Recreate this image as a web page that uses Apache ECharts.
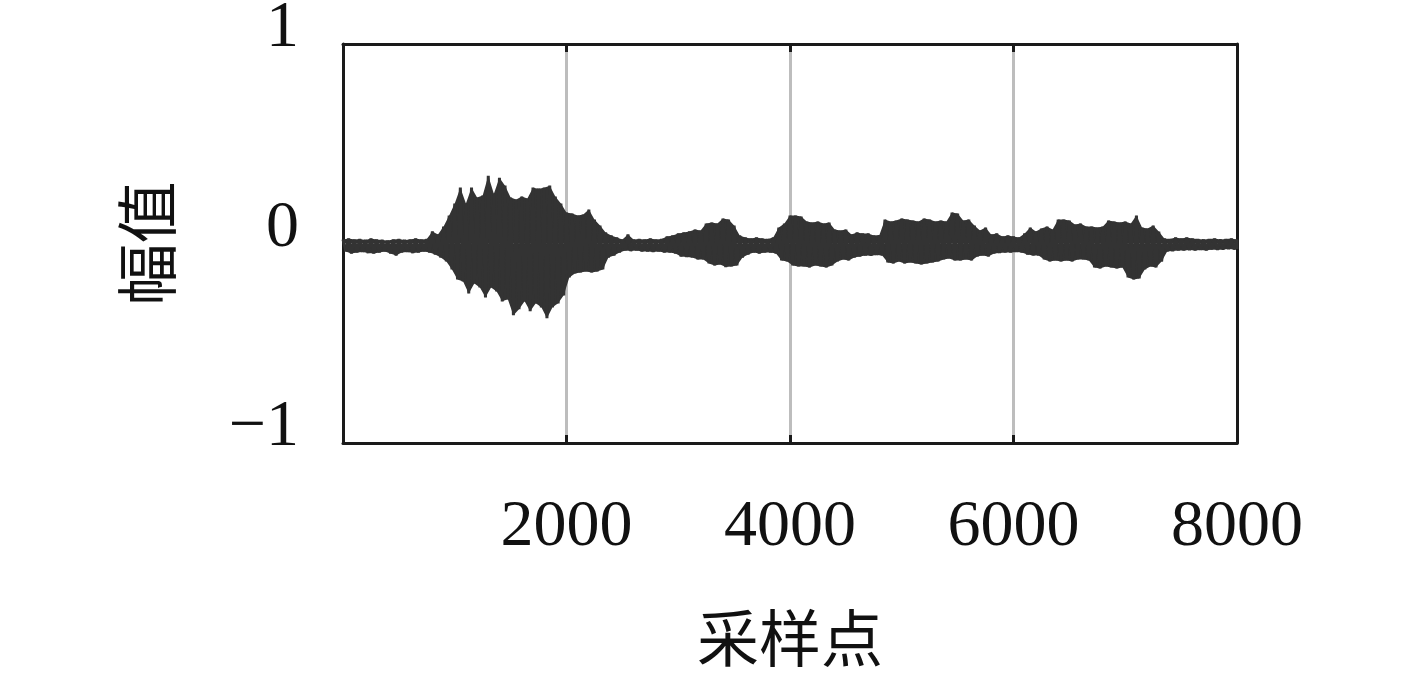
<!DOCTYPE html>
<html>
<head>
<meta charset="utf-8">
<script src="https://cdn.jsdelivr.net/npm/echarts@6/dist/echarts.min.js"></script>
<style>
  html, body { margin: 0; padding: 0; background: #fff; }
  #chart { width: 1417px; height: 673px; }
</style>
</head>
<body>
<div id="chart"></div>
<script>
// waveform envelope, one value every 50 samples (0..8000)
const sampleStep = 50
const upperEnv = [
  0.02, 0.025, 0.02, 0.022, 0.018, 0.025, 0.02, 0.018, 0.015, 0.02,
  0.022, 0.018, 0.02, 0.025, 0.02, 0.022, 0.06, 0.045, 0.085, 0.14,
  0.2, 0.28, 0.2, 0.28, 0.23, 0.24, 0.34, 0.25, 0.33, 0.29,
  0.23, 0.22, 0.235, 0.225, 0.28, 0.275, 0.28, 0.29, 0.235, 0.2,
  0.155, 0.15, 0.14, 0.145, 0.17, 0.12, 0.09, 0.055, 0.04, 0.03,
  0.02, 0.045, 0.02, 0.022, 0.02, 0.025, 0.02, 0.022, 0.035, 0.04,
  0.05, 0.055, 0.06, 0.07, 0.065, 0.1, 0.105, 0.1, 0.125, 0.12,
  0.09, 0.04, 0.03, 0.025, 0.03, 0.025, 0.022, 0.03, 0.08, 0.1,
  0.14, 0.14, 0.135, 0.11, 0.105, 0.11, 0.1, 0.105, 0.07, 0.065,
  0.07, 0.045, 0.055, 0.05, 0.05, 0.04, 0.042, 0.12, 0.11, 0.115,
  0.125, 0.12, 0.115, 0.11, 0.125, 0.12, 0.11, 0.115, 0.11, 0.155,
  0.15, 0.115, 0.12, 0.09, 0.065, 0.08, 0.045, 0.05, 0.035, 0.04,
  0.035, 0.03, 0.05, 0.08, 0.06, 0.075, 0.085, 0.07, 0.12, 0.12,
  0.115, 0.095, 0.1, 0.085, 0.085, 0.08, 0.085, 0.115, 0.11, 0.105,
  0.11, 0.1, 0.14, 0.08, 0.075, 0.09, 0.06, 0.025, 0.022, 0.03,
  0.025, 0.03, 0.025, 0.022, 0.02, 0.022, 0.025, 0.02, 0.022, 0.025,
  0.02
]
const lowerEnv = [
  -0.04, -0.05, -0.045, -0.042, -0.048, -0.05, -0.045, -0.04, -0.05, -0.06,
  -0.045, -0.042, -0.048, -0.045, -0.04, -0.045, -0.055, -0.07, -0.09, -0.13,
  -0.18, -0.19, -0.25, -0.2, -0.22, -0.27, -0.22, -0.24, -0.29, -0.28,
  -0.36, -0.33, -0.29, -0.34, -0.3, -0.32, -0.375, -0.32, -0.3, -0.26,
  -0.17, -0.15, -0.145, -0.14, -0.145, -0.14, -0.13, -0.07, -0.06, -0.045,
  -0.035, -0.038, -0.035, -0.04, -0.04, -0.042, -0.04, -0.045, -0.045, -0.05,
  -0.065, -0.068, -0.07, -0.08, -0.08, -0.1, -0.11, -0.105, -0.118, -0.115,
  -0.11, -0.07, -0.055, -0.045, -0.05, -0.045, -0.045, -0.05, -0.085, -0.09,
  -0.11, -0.115, -0.115, -0.12, -0.11, -0.115, -0.12, -0.11, -0.09, -0.08,
  -0.085, -0.07, -0.065, -0.06, -0.062, -0.058, -0.06, -0.095, -0.1, -0.09,
  -0.1, -0.095, -0.1, -0.105, -0.1, -0.095, -0.09, -0.08, -0.075, -0.085,
  -0.085, -0.08, -0.085, -0.065, -0.06, -0.065, -0.05, -0.048, -0.045, -0.045,
  -0.042, -0.045, -0.055, -0.06, -0.06, -0.08, -0.09, -0.085, -0.09, -0.085,
  -0.09, -0.08, -0.08, -0.085, -0.12, -0.125, -0.115, -0.12, -0.125, -0.12,
  -0.17, -0.18, -0.175, -0.13, -0.115, -0.12, -0.09, -0.04, -0.038, -0.035,
  -0.035, -0.033, -0.035, -0.032, -0.035, -0.03, -0.032, -0.03, -0.028, -0.03,
  -0.028
]
const xTickValues = [2000, 4000, 6000, 8000]
const yTickValues = [-1, 0, 1]
const xName = '采样点'
const yName = '幅值'

const numFont = '"Liberation Serif", "DejaVu Serif", serif'
const cjkFont = '"Noto Sans CJK SC", sans-serif'
const waveColor = '#333333'

// zigzag between the upper and lower envelope, like the dense spikes of the waveform
let wave = []
let upperLine = []
let lowerLine = []
upperEnv.forEach((u, i) => {
  let s = i * sampleStep
  let s2 = Math.min(s + sampleStep / 2, 8000)
  wave.push([s, u])
  wave.push([s2, lowerEnv[i]])
  upperLine.push([s, u])
  lowerLine.push([s2, lowerEnv[i]])
})

let bandSeries = data => ({
  type: 'line',
  data: data,
  symbol: 'none',
  sampling: false,
  lineStyle: { width: 0, opacity: 0 },
  areaStyle: { color: waveColor, opacity: 1, origin: 0 },
  silent: true,
  z: 1
})

let chart = echarts.init(document.getElementById('chart'))
let option = {
  animation: false,
  backgroundColor: '#fff',
  grid: { left: 343, right: 180, top: 44, bottom: 230, outerBoundsMode: 'none', containLabel: false },
  xAxis: [
    {
      type: 'value',
      min: 0,
      max: 8000,
      interval: 2000,
      position: 'bottom',
      name: xName,
      nameLocation: 'middle',
      nameGap: 164,
      nameTextStyle: { fontFamily: cjkFont, fontSize: 62, color: '#111' },
      axisLine: { show: true, onZero: false, lineStyle: { color: '#1a1a1a', width: 3 } },
      axisTick: { show: true, inside: true, length: 8, lineStyle: { color: '#1a1a1a', width: 3 } },
      axisLabel: {
        margin: 52,
        fontFamily: numFont,
        fontSize: 66,
        color: '#111',
        formatter: v => (xTickValues.indexOf(v) >= 0 ? String(v) : '')
      },
      splitLine: { show: true, lineStyle: { color: '#bdbdbd', width: 3 } }
    },
    {
      type: 'value',
      min: 0,
      max: 8000,
      interval: 2000,
      position: 'top',
      axisLine: { show: true, onZero: false, lineStyle: { color: '#1a1a1a', width: 3 } },
      axisTick: { show: true, inside: true, length: 8, lineStyle: { color: '#1a1a1a', width: 3 } },
      axisLabel: { show: false },
      splitLine: { show: false }
    }
  ],
  yAxis: [
    {
      type: 'value',
      min: -1,
      max: 1,
      interval: 1,
      position: 'left',
      name: yName,
      nameLocation: 'middle',
      nameGap: 165,
      nameRotate: 90,
      nameTextStyle: { fontFamily: cjkFont, fontSize: 62, color: '#111' },
      axisLine: { show: true, onZero: false, lineStyle: { color: '#1a1a1a', width: 3 } },
      axisTick: { show: false },
      axisLabel: {
        margin: 44,
        fontFamily: numFont,
        fontSize: 66,
        color: '#111',
        verticalAlign: 'bottom',
        lineHeight: 30,
        formatter: v => (yTickValues.indexOf(v) < 0 ? '' : v < 0 ? '\u2212' + Math.abs(v) : String(v))
      },
      splitLine: { show: false }
    },
    {
      type: 'value',
      min: -1,
      max: 1,
      interval: 1,
      position: 'right',
      axisLine: { show: true, onZero: false, lineStyle: { color: '#1a1a1a', width: 3 } },
      axisTick: { show: false },
      axisLabel: { show: false },
      splitLine: { show: false }
    }
  ],
  series: [
    bandSeries(upperLine),
    bandSeries(lowerLine),
    {
      type: 'line',
      data: wave,
      symbol: 'none',
      sampling: false,
      lineStyle: { color: waveColor, width: 3 },
      z: 2
    }
  ]
}
chart.setOption(option)
</script>
</body>
</html>
